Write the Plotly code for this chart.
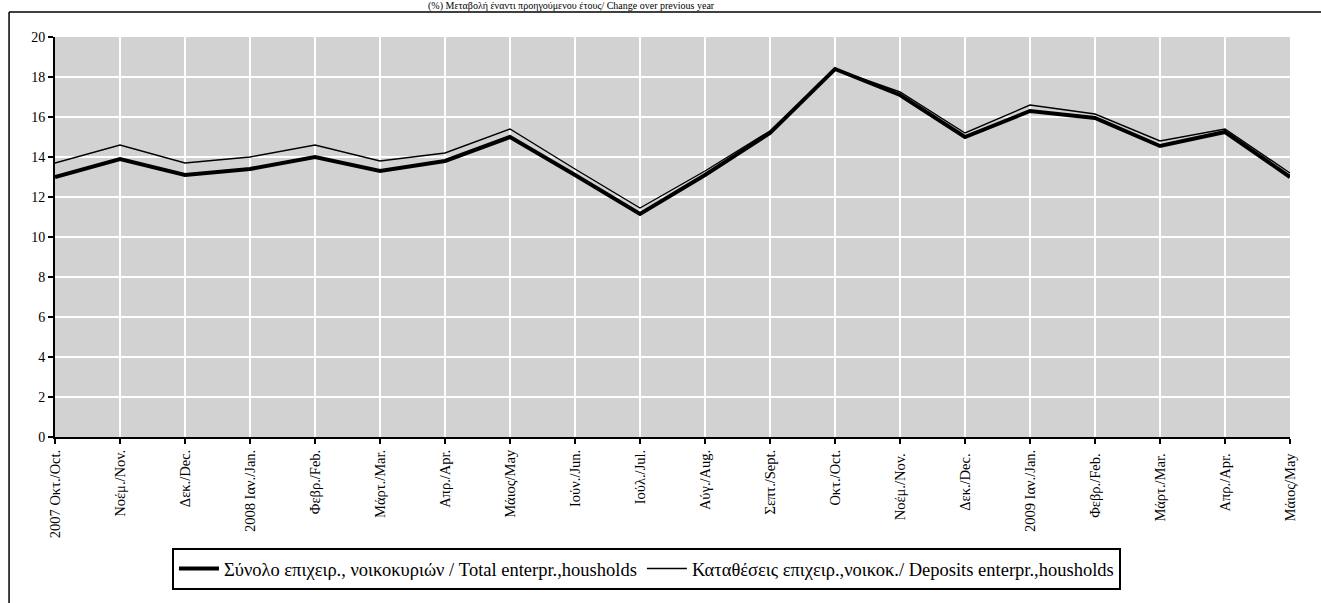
import plotly.graph_objects as go

# months on the x axis
months = ["2007 Οκτ./Oct.", "Νοέμ./Nov.", "Δεκ./Dec.", "2008 Ιαν./Jan.", "Φεβρ./Feb.",
          "Μάρτ./Mar.", "Απρ./Apr.", "Μάιος/May", "Ιούν./Jun.", "Ιούλ./Jul.",
          "Αύγ./Aug.", "Σεπτ./Sept.", "Οκτ./Oct.", "Νοέμ./Nov. ", "Δεκ./Dec. ",
          "2009 Ιαν./Jan.", "Φεβρ./Feb. ", "Μάρτ./Mar. ", "Απρ./Apr. ", "Μάιος/May "]

# annual % change
total = [13.0, 13.9, 13.1, 13.4, 14.0, 13.3, 13.8, 15.0, 13.1, 11.15,
         13.1, 15.2, 18.4, 17.1, 15.0, 16.3, 15.95, 14.55, 15.25, 13.0]
deposits = [13.7, 14.6, 13.7, 14.0, 14.6, 13.8, 14.2, 15.4, 13.4, 11.45,
            13.3, 15.3, 18.4, 17.25, 15.2, 16.6, 16.15, 14.8, 15.4, 13.2]

serif = "Liberation Serif, Times New Roman, serif"

fig = go.Figure()
fig.add_trace(go.Scatter(x=months, y=total, mode="lines",
                         name="Σύνολο επιχειρ., νοικοκυριών / Total enterpr.,housholds",
                         line=dict(color="black", width=4)))
fig.add_trace(go.Scatter(x=months, y=deposits, mode="lines",
                         name="Καταθέσεις επιχειρ.,νοικοκ./ Deposits enterpr.,housholds",
                         line=dict(color="black", width=1.4)))

fig.update_layout(
    width=1321, height=603,
    margin=dict(l=55, r=31, t=37, b=166),
    paper_bgcolor="white",
    plot_bgcolor="#d2d2d2",
    font=dict(family=serif, size=13, color="black"),
    showlegend=True,
    legend=dict(orientation="h", x=0.0947, y=-0.2775, xanchor="left", yanchor="top",
                bordercolor="black", borderwidth=2, bgcolor="white",
                font=dict(family=serif, size=18.5), itemwidth=40,
                tracegroupgap=0),
    annotations=[dict(text="(%) Μεταβολή έναντι προηγούμενου έτους/ Change over previous year",
                      xref="paper", yref="paper", x=0.418, y=1.0775,
                      xanchor="center", yanchor="middle", showarrow=False,
                      font=dict(family=serif, size=10))],
    shapes=[
        dict(type="line", xref="paper", yref="paper", x0=-0.0372, x1=1.05, y0=1.0625, y1=1.0625,
             line=dict(color="black", width=1.5)),
        dict(type="line", xref="paper", yref="paper", x0=-0.0372, x1=-0.0372, y0=1.0625, y1=-0.45,
             line=dict(color="black", width=1.5)),
    ],
)

fig.update_xaxes(type="category", range=[0, len(months) - 1], tickangle=-90,
                 showline=True, linecolor="black", linewidth=2,
                 ticks="outside", ticklen=5, tickcolor="black", tickwidth=1.5,
                 showgrid=True, gridcolor="white", gridwidth=2,
                 tickfont=dict(family=serif, size=14.5))
fig.update_yaxes(range=[0, 20], dtick=2, showline=True, linecolor="black", linewidth=2,
                 ticks="outside", ticklen=5, tickcolor="black", tickwidth=1.5,
                 showgrid=True, gridcolor="white", gridwidth=2, zeroline=False,
                 tickfont=dict(family=serif, size=14))

# drop the page's default body margin so the chart sits at the window corner
fig.write_html("out.html", config={"displayModeBar": False},
               post_script="document.body.style.margin='0';")
